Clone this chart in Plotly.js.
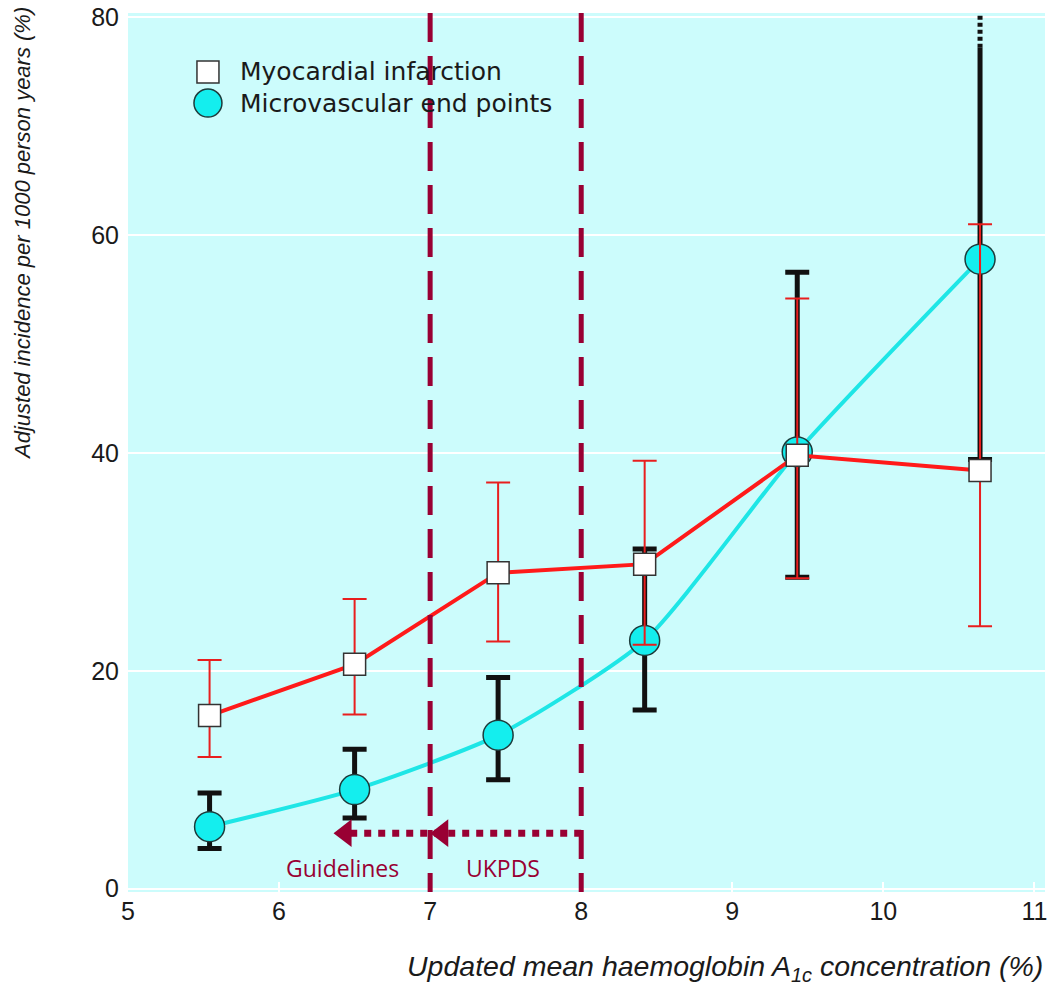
<!DOCTYPE html>
<html>
<head>
<meta charset="utf-8">
<script src="https://cdn.plot.ly/plotly-3.0.1.min.js"></script>
<style>html,body{margin:0;padding:0;background:#fff;}#chart{width:1050px;height:987px;}</style>
</head>
<body>
<div id="chart"></div>
<script>
// ---- data ----
const hba1c = [5.54, 6.50, 7.45, 8.42, 9.43, 10.64];          // updated mean HbA1c (%)
const miRate = [15.9, 20.6, 29.0, 29.8, 39.8, 38.4];           // myocardial infarction
const miUpper = [21.0, 26.6, 37.3, 39.3, 54.2, 61.0];
const miLower = [12.1, 16.0, 22.7, 22.4, 28.5, 24.1];
const mvRate = [5.7, 9.1, 14.1, 22.8, 40.1, 57.8];              // microvascular end points
const mvUpper = [8.8, 12.8, 19.4, 31.2, 56.6, 77.2];            // last upper limit runs off the axis
const mvLower = [3.7, 6.5, 10.0, 16.4, 28.6, 39.4];
const mvOffscale = [77.2, 80.6];                                 // dotted continuation beyond 80
const targetHbA1c = [7, 8];                                      // Guidelines, UKPDS targets
const targetLabels = ['Guidelines', 'UKPDS'];
const targetLabelX = [6.42, 7.48];
const targetLabelY = 1.9;
const arrowY = 5.1;
const arrowTips = [6.36, 7.0];
const arrowStart = 8;
const legendLabels = ['Myocardial infarction', 'Microvascular end points'];

const xTicks = [5, 6, 7, 8, 9, 10, 11];
const yTicks = [0, 20, 40, 60, 80];

const maroon = '#990033';
const cyanLine = '#1EE6E6', cyanFill = '#14EEEE', cyanEdge = '#1d3b3b';
const last = hba1c.length - 1;
const legendX = 0.0872, legendTextX = 0.12, legendY = [0.933, 0.8976];

const miMarker = {symbol: 'square', size: 22, color: '#ffffff', opacity: 1, line: {color: '#333', width: 1.5}};
const mvMarker = {symbol: 'circle', size: 30, color: cyanFill, opacity: 1, line: {color: cyanEdge, width: 1.5}};

const traces = [
  { // microvascular upper limit of last point (no cap: it continues off the axis)
    x: [hba1c[last], hba1c[last]], y: [mvRate[last], mvUpper[last]], type: 'scatter', mode: 'lines',
    line: {color: '#111', width: 5}, hoverinfo: 'skip'
  },
  { // off-scale dotted continuation
    x: [hba1c[last], hba1c[last]], y: mvOffscale, type: 'scatter', mode: 'lines',
    line: {color: '#111', width: 5, dash: '4px,3px'}, hoverinfo: 'skip'
  },
  { // microvascular
    x: hba1c, y: mvRate, type: 'scatter', mode: 'lines+markers', name: legendLabels[1],
    line: {color: cyanLine, width: 4, shape: 'spline', smoothing: 0.6},
    marker: mvMarker,
    error_y: {type: 'data', symmetric: false,
      array: mvUpper.map((u, i) => i === last ? 0 : u - mvRate[i]),
      arrayminus: mvLower.map((l, i) => mvRate[i] - l),
      color: '#111', thickness: 5, width: 12}
  },
  { // myocardial infarction
    x: hba1c, y: miRate, type: 'scatter', mode: 'lines+markers', name: legendLabels[0],
    line: {color: '#FF1A1A', width: 4},
    marker: miMarker,
    error_y: {type: 'data', symmetric: false,
      array: miUpper.map((u, i) => u - miRate[i]),
      arrayminus: miLower.map((l, i) => miRate[i] - l),
      color: '#E81E1E', thickness: 2, width: 12}
  },
  { // dotted arrow shaft
    x: [arrowStart, arrowTips[0] + 0.09], y: [arrowY, arrowY], type: 'scatter', mode: 'lines',
    line: {color: maroon, width: 7, dash: '7px,7px'}, hoverinfo: 'skip'
  },
  { // arrow heads
    x: arrowTips.map(t => t + 0.08), y: arrowTips.map(() => arrowY), type: 'scatter', mode: 'markers',
    marker: {symbol: 'triangle-left', size: 24, color: maroon, opacity: 1}, hoverinfo: 'skip'
  },
  { // legend symbol: myocardial infarction
    x: [legendX], y: [legendY[0]], xaxis: 'x2', yaxis: 'y2', type: 'scatter', mode: 'markers',
    marker: miMarker, hoverinfo: 'skip'
  },
  { // legend symbol: microvascular
    x: [legendX], y: [legendY[1]], xaxis: 'x2', yaxis: 'y2', type: 'scatter', mode: 'markers',
    marker: Object.assign({}, mvMarker, {size: 28}), hoverinfo: 'skip'
  }
];

const shapes = targetHbA1c.map(x => ({
  type: 'line', xref: 'x', yref: 'paper', x0: x, x1: x, y0: 1, y1: 0,
  line: {color: maroon, width: 5, dash: '29px,14px'}, layer: 'above'
}));

const annotations = targetLabels.map((t, i) => ({
  text: t, x: targetLabelX[i], y: targetLabelY, xref: 'x', yref: 'y', showarrow: false,
  font: {family: 'Open Sans', size: 23, color: maroon}
}));
legendLabels.forEach((t, i) => annotations.push({
  text: t, xref: 'paper', yref: 'paper', x: legendTextX, y: legendY[i], xanchor: 'left', yanchor: 'middle',
  showarrow: false, font: {family: 'DejaVu Sans, sans-serif', size: 25, color: '#1a1a1a'}
}));
annotations.push({
  text: 'Updated mean haemoglobin A<sub>1c</sub> concentration (%)',
  xref: 'paper', yref: 'paper', x: 1, y: -0.087, xanchor: 'right', yanchor: 'middle', showarrow: false,
  font: {family: 'Liberation Sans, Arial, sans-serif', size: 28.5, style: 'italic', color: '#1a1a1a'}
});
annotations.push({
  text: 'Adjusted incidence per 1000 person years (%)', textangle: -90,
  xref: 'paper', yref: 'paper', x: -0.1156, y: 0.7497, xanchor: 'center', yanchor: 'middle', showarrow: false,
  font: {family: 'Liberation Sans, Arial, sans-serif', size: 22, style: 'italic', color: '#1a1a1a'}
});

const layout = {
  width: 1050, height: 987,
  margin: {l: 128, r: 5, t: 13, b: 95},
  paper_bgcolor: '#ffffff', plot_bgcolor: '#CCFCFC',
  font: {family: 'Liberation Sans, Arial, sans-serif', color: '#1a1a1a'},
  showlegend: false,
  xaxis: {range: [5, 11.07], tickvals: xTicks, ticktext: xTicks.map(String), showgrid: false, zeroline: false,
    ticks: 'inside', ticklen: 10, tickwidth: 2, tickcolor: '#ffffff', showline: false,
    tickfont: {size: 25, color: '#1a1a1a'}, ticklabelstandoff: 2},
  yaxis: {range: [-0.3, 80.4], tickvals: yTicks, ticktext: yTicks.map(String), showgrid: true,
    gridcolor: '#ffffff', gridwidth: 2, zeroline: false, showline: false, ticks: '',
    tickfont: {size: 25, color: '#1a1a1a'}, ticklabelstandoff: 8},
  xaxis2: {overlaying: 'x', range: [0, 1], visible: false, fixedrange: true},
  yaxis2: {overlaying: 'y', range: [0, 1], visible: false, fixedrange: true},
  shapes: shapes,
  annotations: annotations
};

Plotly.newPlot('chart', traces, layout, {displayModeBar: false, staticPlot: true});
</script>
</body>
</html>
